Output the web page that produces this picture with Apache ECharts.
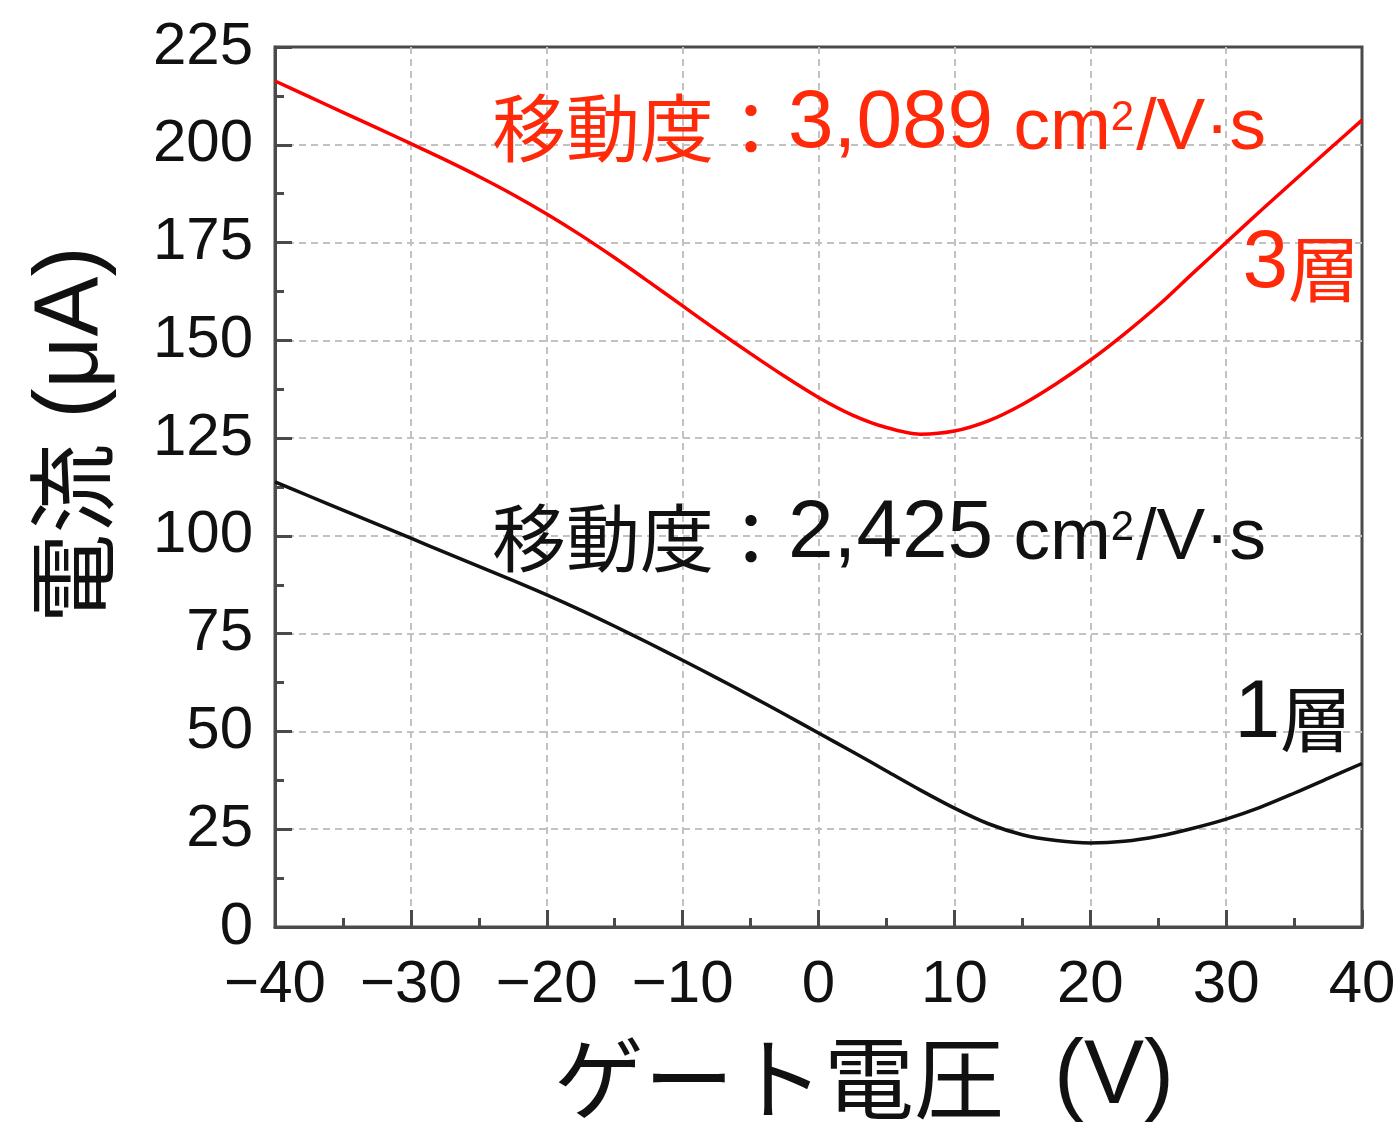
<!DOCTYPE html>
<html>
<head>
<meta charset="utf-8">
<script src="https://cdn.jsdelivr.net/npm/echarts@6/dist/echarts.min.js"></script>
<style>
html,body{margin:0;padding:0;background:#fff;}
#main{width:1400px;height:1124px;}
</style>
</head>
<body>
<div id="main"></div>
<script>
// Gate voltage (V)
const voltage = [-40,-37.5,-35,-32.5,-30,-27.5,-25,-22.5,-20,-17.5,-15,-12.5,-10,-7.5,-5,-2.5,0,2.5,5,7.5,10,12.5,15,17.5,20,22.5,25,27.5,30,32.5,35,37.5,40];
// Current (μA), 3-layer
const current3 = [216.3,212.3,208.3,204.3,200.3,196.2,191.9,187.3,182.3,176.9,171.1,165.0,158.8,152.6,146.6,140.8,135.4,130.9,127.7,126.0,126.8,129.4,133.6,138.9,144.9,151.6,158.9,167.0,175.0,183.0,190.8,198.6,206.3];
// Current (μA), 1-layer
const current1 = [113.8,110.2,106.6,103.0,99.4,95.8,92.2,88.6,84.9,81.0,76.9,72.6,68.2,63.7,59.1,54.4,49.6,44.8,39.9,35.0,30.4,26.4,23.6,22.1,21.5,21.9,23.2,25.2,27.6,30.6,34.2,38.0,41.8];
const xTicks = [-40,-30,-20,-10,0,10,20,30,40];
const xTickLabels = ['−40','−30','−20','−10','0','10','20','30','40'];
const yTickLabels = ['0','25','50','75','100','125','150','175','200','225'];

const LATIN = '"Liberation Sans", Arial, "Noto Sans CJK JP", sans-serif';
const CJK = '"Noto Sans CJK JP", "Liberation Sans", sans-serif';
const RED = '#ff0000';
const RED_TXT = '#ff2a0a';
const INK = '#111';

const chart = echarts.init(document.getElementById('main'), null, {renderer:'canvas'});
const axisColor = '#4a4a4a';
const gridLine = {show:true, showMinLine:false, showMaxLine:false, lineStyle:{color:'#c2c2c2', width:2, type:[7,5]}};

function zip(xs, ys){ return xs.map((x,i)=>[x, ys[i]]); }

function mobilityRich(color){
  return {
    a:{fontSize:74, fontFamily:CJK, fill:color, verticalAlign:'bottom'},
    b:{fontSize:82, fontFamily:LATIN, fill:color, verticalAlign:'bottom'},
    c:{fontSize:73, fontFamily:LATIN, fill:color, verticalAlign:'bottom'},
    s:{fontSize:42, fontFamily:LATIN, fill:color, verticalAlign:'top', padding:[14,2,0,0]}
  };
}
function layerRich(color){
  return {
    a:{fontSize:72, fontFamily:CJK, fill:color, verticalAlign:'bottom'},
    b:{fontSize:82, fontFamily:LATIN, fill:color, verticalAlign:'bottom'}
  };
}
const titleRich = {
  j:{fontSize:90, fontFamily:CJK, fill:INK},
  l:{fontSize:90, fontFamily:LATIN, fill:INK}
};

const option = {
  backgroundColor:'#fff',
  animation:false,
  grid:{left:275, right:38, top:47, bottom:197, show:true, borderColor:axisColor, borderWidth:3, backgroundColor:'transparent'},
  xAxis:{
    type:'value', min:-40, max:40, interval:10,
    axisLine:{show:true, onZero:false, lineStyle:{color:axisColor, width:3}},
    axisTick:{show:true, inside:true, length:17, lineStyle:{color:axisColor, width:3}},
    minorTick:{show:true, splitNumber:2, length:9, lineStyle:{color:axisColor, width:3}},
    splitLine:gridLine,
    axisLabel:{
      margin:28, color:INK, fontSize:60, fontFamily:LATIN,
      formatter:function(v){ const i = xTicks.indexOf(v); return i>=0 ? xTickLabels[i] : ''; }
    }
  },
  yAxis:{
    type:'value', min:0, max:225, interval:25,
    axisLine:{show:true, onZero:false, lineStyle:{color:axisColor, width:3}},
    axisTick:{show:true, inside:true, length:17, lineStyle:{color:axisColor, width:3}},
    minorTick:{show:true, splitNumber:2, length:9, lineStyle:{color:axisColor, width:3}},
    splitLine:gridLine,
    axisLabel:{
      margin:22, color:INK, fontSize:60, fontFamily:LATIN,
      formatter:function(v){ return yTickLabels[Math.round(v/25)] || ''; }
    }
  },
  series:[
    {name:'3層', type:'line', data:zip(voltage,current3), smooth:0.3, showSymbol:false,
     lineStyle:{color:RED, width:3.5}, z:5},
    {name:'1層', type:'line', data:zip(voltage,current1), smooth:0.3, showSymbol:false,
     lineStyle:{color:INK, width:3.5}, z:5}
  ],
  graphic:[
    {type:'text', left:492, top:83, z:10, style:{
      text:'{a|移動度：}{b|3,089}{c| cm}{s|2}{c|/V·s}', fill:RED_TXT, rich:mobilityRich(RED_TXT)}},
    {type:'text', left:492, top:493, z:10, style:{
      text:'{a|移動度：}{b|2,425}{c| cm}{s|2}{c|/V·s}', fill:INK, rich:mobilityRich(INK)}},
    {type:'text', right:40, top:223, z:10, style:{
      text:'{b|3}{a|層}', fill:RED_TXT, rich:layerRich(RED_TXT)}},
    {type:'text', right:48, top:673, z:10, style:{
      text:'{b|1}{a|層}', fill:INK, rich:layerRich(INK)}},
    {type:'text', x:864, y:1078, z:10, style:{
      text:'{j|ゲート電圧}{l|  (V)}', align:'center', verticalAlign:'middle', rich:titleRich}},
    {type:'text', x:72, y:435, rotation:Math.PI/2, z:10, style:{
      text:'{j|電流}{l| (μA)}', align:'center', verticalAlign:'middle', rich:titleRich}}
  ]
};
chart.setOption(option);
</script>
</body>
</html>
